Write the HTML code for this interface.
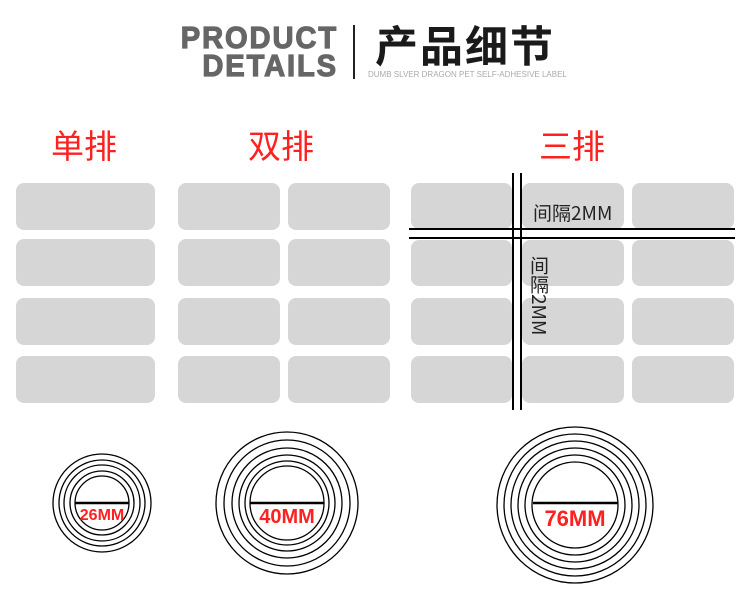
<!DOCTYPE html>
<html><head><meta charset="utf-8"><style>
body{margin:0;width:750px;height:594px;background:#fff;position:relative;overflow:hidden;font-family:"Liberation Sans","Noto Sans CJK SC",sans-serif}
.a{position:absolute}
.r{position:absolute;background:#d6d6d6;border-radius:8px}
.h{position:absolute;color:#ff2020;font-size:33px;top:124px;font-family:"Noto Sans CJK SC",sans-serif;line-height:40px}
</style></head><body>
<div class="a" style="left:0px;top:24px;font-size:31px;font-weight:bold;color:#666;line-height:28px;letter-spacing:2px;text-align:right;width:338px;-webkit-text-stroke:1.2px #666;transform:scaleX(0.94);transform-origin:right">PRODUCT<br>DETAILS</div>
<div class="a" style="left:353px;top:25px;width:2px;height:54px;background:#222"></div>
<div class="a" style="left:375px;top:16px;font-size:43px;font-weight:bold;color:#1a1a1a;font-family:'Noto Sans CJK SC',sans-serif;line-height:56px;letter-spacing:2px">产品细节</div>
<div class="a" style="left:368px;top:70px;font-size:8px;color:#aaa;white-space:nowrap">DUMB SLVER DRAGON PET SELF-ADHESIVE LABEL</div>
<div class="h" style="left:51px">单排</div>
<div class="h" style="left:248px">双排</div>
<div class="h" style="left:539px">三排</div>
<div class="r" style="left:16px;top:183px;width:139px;height:47px"></div>
<div class="r" style="left:16px;top:239px;width:139px;height:47px"></div>
<div class="r" style="left:16px;top:298px;width:139px;height:47px"></div>
<div class="r" style="left:16px;top:356px;width:139px;height:47px"></div>
<div class="r" style="left:178px;top:183px;width:102px;height:47px"></div>
<div class="r" style="left:178px;top:239px;width:102px;height:47px"></div>
<div class="r" style="left:178px;top:298px;width:102px;height:47px"></div>
<div class="r" style="left:178px;top:356px;width:102px;height:47px"></div>
<div class="r" style="left:288px;top:183px;width:102px;height:47px"></div>
<div class="r" style="left:288px;top:239px;width:102px;height:47px"></div>
<div class="r" style="left:288px;top:298px;width:102px;height:47px"></div>
<div class="r" style="left:288px;top:356px;width:102px;height:47px"></div>
<div class="r" style="left:411px;top:183px;width:101px;height:46px"></div>
<div class="r" style="left:411px;top:240px;width:101px;height:46px"></div>
<div class="r" style="left:411px;top:298px;width:101px;height:47px"></div>
<div class="r" style="left:411px;top:356px;width:101px;height:47px"></div>
<div class="r" style="left:522px;top:183px;width:102px;height:46px"></div>
<div class="r" style="left:522px;top:240px;width:102px;height:46px"></div>
<div class="r" style="left:522px;top:298px;width:102px;height:47px"></div>
<div class="r" style="left:522px;top:356px;width:102px;height:47px"></div>
<div class="r" style="left:632px;top:183px;width:102px;height:46px"></div>
<div class="r" style="left:632px;top:240px;width:102px;height:46px"></div>
<div class="r" style="left:632px;top:298px;width:102px;height:47px"></div>
<div class="r" style="left:632px;top:356px;width:102px;height:47px"></div>
<div class="a" style="left:512px;top:173px;width:2px;height:237px;background:#000"></div>
<div class="a" style="left:520px;top:173px;width:2px;height:237px;background:#000"></div>
<div class="a" style="left:409px;top:228px;width:326px;height:2px;background:#000"></div>
<div class="a" style="left:409px;top:237px;width:326px;height:2px;background:#000"></div>
<div class="a" style="left:533px;top:201px;font-size:19px;color:#222;font-family:'Noto Sans CJK SC',sans-serif;line-height:24px;white-space:nowrap">间隔2MM</div>
<div class="a" style="left:527px;top:256px;width:22px;font-size:19px;color:#222;font-family:'Noto Sans CJK SC',sans-serif;line-height:20px;writing-mode:vertical-rl;text-orientation:mixed">间隔2MM</div>
<svg class="a" style="left:0;top:0" width="750" height="594" fill="none" stroke="#000" stroke-width="1.3">
<g><circle cx="102" cy="503" r="49"/><circle cx="102" cy="503" r="43"/><circle cx="102" cy="503" r="38"/><circle cx="102" cy="503" r="32"/><circle cx="102" cy="503" r="27"/><line x1="75" y1="503" x2="129" y2="503" stroke-width="2.5"/></g>
<g><circle cx="287" cy="503" r="71"/><circle cx="287" cy="503" r="63"/><circle cx="287" cy="503" r="55"/><circle cx="287" cy="503" r="48"/><circle cx="287" cy="503" r="42"/><circle cx="287" cy="503" r="37"/><line x1="250" y1="503" x2="324" y2="503" stroke-width="2.5"/></g>
<g><circle cx="575" cy="505" r="78"/><circle cx="575" cy="505" r="71"/><circle cx="575" cy="505" r="64"/><circle cx="575" cy="505" r="57"/><circle cx="575" cy="505" r="50"/><circle cx="575" cy="505" r="43"/><line x1="533" y1="503" x2="618" y2="503" stroke-width="2.5"/></g>
</svg>
<div class="a" style="left:62px;top:507px;width:80px;text-align:center;color:#ff2020;font-size:16px;font-weight:bold;line-height:18px">26MM</div>
<div class="a" style="left:247px;top:506px;width:80px;text-align:center;color:#ff2020;font-size:20px;font-weight:bold;line-height:22px">40MM</div>
<div class="a" style="left:535px;top:507px;width:80px;text-align:center;color:#ff2020;font-size:22px;font-weight:bold;line-height:24px">76MM</div>
</body></html>
